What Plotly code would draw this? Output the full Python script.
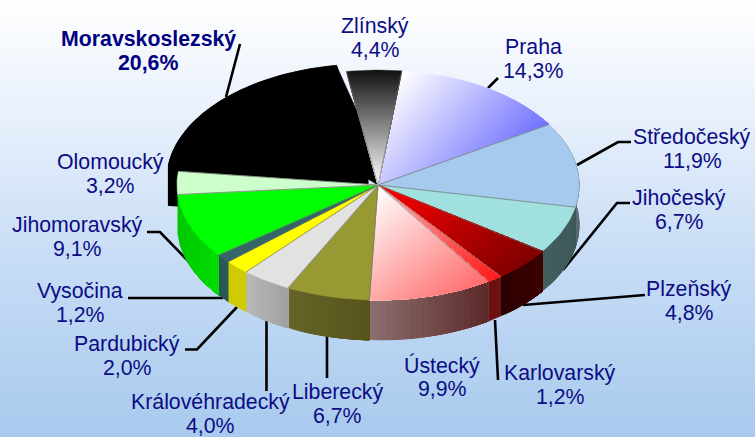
import math
import plotly.graph_objects as go

# ---- data ----
regions = ["Praha", "Středočeský", "Jihočeský", "Plzeňský", "Karlovarský", "Ústecký", "Liberecký",
           "Královéhradecký", "Pardubický", "Vysočina", "Jihomoravský", "Olomoucký",
           "Moravskoslezský", "Zlínský"]
shares = [14.3, 11.9, 6.7, 4.8, 1.2, 9.9, 6.7, 4.0, 2.0, 1.2, 9.1, 3.2, 20.6, 4.4]
share_labels = ["14,3%", "11,9%", "6,7%", "4,8%", "1,2%", "9,9%", "6,7%", "4,0%", "2,0%", "1,2%",
                "9,1%", "3,2%", "20,6%", "4,4%"]

# fill: solid colour or (colour0, colour1, direction x, direction y)
top_fill = [("#ffffff", "#7272ff", 0.75, 0.66), "#a6caee", "#a0e0de", ("#ff0000", "#800000", 0.65, 0.76),
            ("#ffb4b4", "#ff1c1c", 0.65, 0.76), ("#ffffff", "#ff6e6e", 0.62, 0.78), "#999933", "#e2e2e2",
            "#ffff00", "#336666", "#00ff00", "#ccffcc", "#000000", ("#141414", "#ffffff", 0, 1)]
side_fill = [None, ("#7d8794", "#56646f", 0, 1), ("#465f60", "#3f5a5a", 1, 0), ("#2c0000", "#3c0000", 1, 0),
             "#6c1010", ("#8c6e6e", "#5e2c2c", 1, 0), ("#666428", "#57551c", 1, 0), ("#b8b8b8", "#a2a2a2", 1, 0),
             "#cfcb00", "#2a5656", ("#00c800", "#00dc00", 1, 0), None, "#000000", None]

label_x = [533, 692, 679, 689, 560, 442, 337, 210, 127, 80, 77, 110, 148, 375]
label_y = [59, 149, 210, 301, 385, 377, 404, 414, 356, 303, 237, 174, 51, 38]

leaders = [
    [(498, 78), (488, 88)],
    [(577, 165), (618, 142), (631, 142)],
    [(563, 270), (617, 203), (630, 203)],
    [(523, 305), (645, 295)],
    [(495, 320), (498, 380)],
    [(327, 336), (327, 378)],
    [(266.5, 320), (266.5, 391)],
    [(237, 307), (197, 349.5), (185, 349.5)],
    [(223, 298), (128, 298)],
    [(192, 265), (160, 232), (147, 232)],
    [(240, 44), (226, 97)],
]

# ---- geometry / style ----
W, H = 755, 437
CX, CY, RX, RY, DEPTH = 378, 185, 201, 115, 40
START = 6.8
EXPLODE = {12: (-10, -6)}
TEXT = "#0c0c85"
FONT = "Liberation Sans, Arial, sans-serif"
FONT_SIZE = 21.3
LINE_GAP = 12

fig = go.Figure()


def wedge(a0, a1, off=(0, 0)):
    n = max(3, int((a1 - a0) / 1.5))
    arc = []
    for i in range(n + 1):
        t = math.radians(a0 + (a1 - a0) * i / n)
        arc.append((CX + off[0] + RX * math.sin(t), CY + off[1] - RY * math.cos(t)))
    return (CX + off[0], CY + off[1]), arc


def solid(pts, col, lw=0.6):
    fig.add_trace(go.Scatter(
        x=[p[0] for p in pts] + [pts[0][0]], y=[p[1] for p in pts] + [pts[0][1]],
        mode="lines", fill="toself", fillcolor=col, line=dict(color=col, width=lw),
        hoverinfo="skip", showlegend=False))


def clip(poly, dx, dy, lim):
    out = []
    val = lambda p: p[0] * dx + p[1] * dy - lim
    for i, p in enumerate(poly):
        q = poly[(i + 1) % len(poly)]
        vp, vq = val(p), val(q)
        if vp >= 0:
            out.append(p)
        if vp * vq < 0:
            s = vp / (vp - vq)
            out.append((p[0] + (q[0] - p[0]) * s, p[1] + (q[1] - p[1]) * s))
    return out


def rgb(h):
    return [int(h[i:i + 2], 16) for i in (1, 3, 5)]


def paint(pts, fill, bands=40):
    if fill is None:
        return
    if isinstance(fill, str):
        solid(pts, fill)
        return
    c0, c1, dx, dy = fill
    proj = [p[0] * dx + p[1] * dy for p in pts]
    lo, hi = min(proj), max(proj)
    a, b = rgb(c0), rgb(c1)
    # painted front to back: each step covers everything left to the far end, so no seams show
    for i in range(bands):
        part = clip(pts, dx, dy, lo + (hi - lo) * i / bands)
        if len(part) >= 3:
            f = i / (bands - 1)
            solid(part, "rgb(%d,%d,%d)" % tuple(round(a[k] + (b[k] - a[k]) * f) for k in range(3)), 0.3)


# background
rows = list(range(0, H + 1, 4))
fig.add_trace(go.Heatmap(x=[0, W], y=rows, z=[[r, r] for r in rows], zmin=0, zmax=H,
                         colorscale=[[0, "#ffffff"], [0.25, "#e9f1fc"], [0.6, "#c6dcf5"], [1, "#a9caee"]],
                         showscale=False, hoverinfo="skip"))

# wedge angles derived from the shares
angles = []
a = START
for s in shares:
    angles.append((a, a + s * 3.6))
    a += s * 3.6

# leader lines lie behind the pie
for seg in leaders:
    fig.add_trace(go.Scatter(x=[p[0] for p in seg], y=[p[1] for p in seg], mode="lines",
                             line=dict(color="#000000", width=2.6), hoverinfo="skip", showlegend=False))

# exploded slice: full extruded body, drawn first
for i, off in EXPLODE.items():
    apex, arc = wedge(*angles[i], off)
    shift = lambda pts: [(x, y + DEPTH) for x, y in pts]
    solid(shift([apex] + arc), side_fill[i])
    solid([apex, arc[0], (arc[0][0], arc[0][1] + DEPTH), (apex[0], apex[1] + DEPTH)], side_fill[i])
    solid([apex, arc[-1], (arc[-1][0], arc[-1][1] + DEPTH), (apex[0], apex[1] + DEPTH)], side_fill[i])
    for j in range(len(arc) - 1):
        solid([arc[j], arc[j + 1], (arc[j + 1][0], arc[j + 1][1] + DEPTH), (arc[j][0], arc[j][1] + DEPTH)], side_fill[i])
    # inner cut face, seen beside the next slice
    _, next_arc = wedge(*angles[(i + 1) % len(shares)])
    nx, ny = next_arc[0]
    solid([arc[-1], (CX + 0.62 * (nx - CX), CY + 0.62 * (ny - CY)), (CX, CY), apex], side_fill[i])

# outer walls
for i in range(len(shares)):
    if i in EXPLODE or side_fill[i] is None:
        continue
    _, arc = wedge(*angles[i], (0, 0))
    paint(arc + [(x, y + DEPTH) for x, y in reversed(arc)], side_fill[i], bands=20)

# top faces
for i in range(len(shares)):
    apex, arc = wedge(*angles[i], EXPLODE.get(i, (0, 0)))
    paint([apex] + arc, top_fill[i])
    if i != 12:
        fig.add_trace(go.Scatter(x=[arc[0][0], apex[0], arc[-1][0]], y=[arc[0][1], apex[1], arc[-1][1]],
                                 mode="lines", line=dict(color="rgba(110,110,110,0.75)", width=0.8),
                                 hoverinfo="skip", showlegend=False))

# labels: each line placed on its own for the tight line spacing of the original
for i, name in enumerate(regions):
    bold = name == "Moravskoslezský"
    for txt, yy in ((name, label_y[i] - LINE_GAP), (share_labels[i], label_y[i] + LINE_GAP)):
        fig.add_annotation(x=label_x[i], y=yy, text=f"<b>{txt}</b>" if bold else txt, showarrow=False,
                           xanchor="center", yanchor="middle",
                           font=dict(family=FONT, size=FONT_SIZE, color="#000080" if bold else TEXT))

fig.update_layout(width=W, height=H, margin=dict(l=0, r=0, t=0, b=0), showlegend=False,
                  plot_bgcolor="#ffffff", paper_bgcolor="#ffffff",
                  xaxis=dict(range=[0, W], visible=False, fixedrange=True),
                  yaxis=dict(range=[H, 0], visible=False, fixedrange=True))
fig.write_html("out.html", config=dict(displayModeBar=False),
               post_script="document.body.style.margin='0';document.body.style.overflow='hidden';")
